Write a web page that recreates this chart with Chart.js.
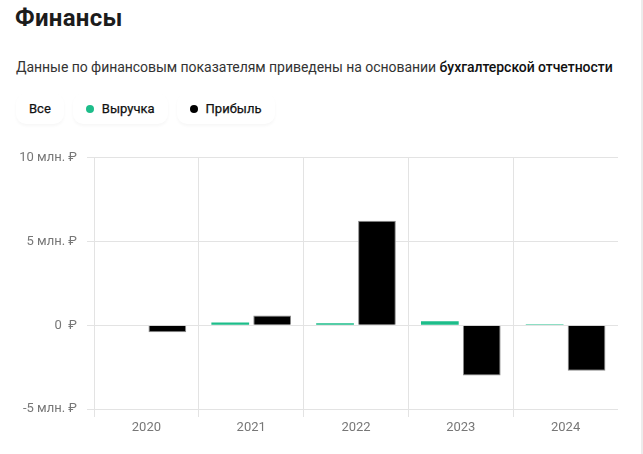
<!DOCTYPE html>
<html lang="ru">
<head>
<meta charset="utf-8">
<script src="https://cdn.jsdelivr.net/npm/chart.js@4"></script>
<style>
  html,body{margin:0;padding:0;background:#fff;}
  body{width:643px;height:454px;position:relative;overflow:hidden;font-family:Roboto,"Noto Sans",sans-serif;color:#222;}
  h1{position:absolute;left:15px;top:4px;margin:0;font-size:24px;font-weight:700;letter-spacing:0.3px;color:#1c1c1c;}
  .sub{position:absolute;left:16px;top:59px;margin:0;font-size:14px;color:#333;white-space:nowrap;letter-spacing:-0.05px;}
  .sub b{font-weight:500;color:#111;}
  .pills{position:absolute;left:16px;top:93px;display:flex;gap:9px;}
  .pill{height:31px;box-sizing:border-box;padding:0 13px;border-radius:10px;background:#fff;box-shadow:0 2px 3px rgba(0,0,0,0.035);display:flex;align-items:center;font-size:13px;font-weight:400;color:#111;-webkit-text-stroke:0.25px #111;}
  .dot{width:8px;height:8px;border-radius:50%;margin-right:8px;}
  .wrap{position:absolute;left:0;top:140px;width:643px;height:314px;}
  .edge{position:absolute;right:0;top:0;width:2px;height:454px;background:#ececec;}
</style>
</head>
<body>
<h1>Финансы</h1>
<p class="sub">Данные по финансовым показателям приведены на основании <b>бухгалтерской отчетности</b></p>
<div class="pills">
  <div class="pill">Все</div>
  <div class="pill"><span class="dot" style="background:#1dbd8a"></span>Выручка</div>
  <div class="pill"><span class="dot" style="background:#000"></span>Прибыль</div>
</div>
<div class="wrap"><canvas id="chart"></canvas></div>
<div class="edge"></div>
<script>
// данные, млн. ₽
const years = ['2020', '2021', '2022', '2023', '2024'];
const revenue = [null, 0.16, 0.12, 0.24, 0.06];
const profit = [-0.42, 0.59, 6.24, -3.0, -2.72];
const yTickValues = [-5, 0, 5, 10];
const yTickLabels = ['-5 млн. ₽', '0  ₽', '5 млн. ₽', '10 млн. ₽'];

const green = '#1dbd8a';
const gridColor = '#e3e3e3';

new Chart(document.getElementById('chart'), {
  type: 'bar',
  data: {
    labels: years,
    datasets: [
      {label: 'Выручка', data: revenue, backgroundColor: green, borderColor: green, borderWidth: 0},
      {label: 'Прибыль', data: profit, backgroundColor: '#000', borderColor: '#8a8a8a', borderWidth: 1}
    ]
  },
  options: {
    responsive: true,
    maintainAspectRatio: false,
    animation: false,
    layout: {padding: {top: 14, right: 25, left: 0, bottom: 0}},
    plugins: {legend: {display: false}, tooltip: {enabled: false}},
    scales: {
      x: {
        grid: {
          color: ctx => ctx.type === 'tick' ? gridColor : 'rgba(0,0,0,0)',
          tickLength: 8
        },
        border: {display: false},
        ticks: {color: '#777', font: {family: 'Roboto', size: 13}, padding: 3},
        afterFit: s => { s.height = 45; }
      },
      y: {
        min: -5,
        max: 10,
        grid: {color: gridColor, tickLength: 7},
        border: {display: false},
        ticks: {
          stepSize: 5,
          color: '#777',
          font: {family: 'Roboto', size: 13},
          padding: 10,
          callback: v => {
            const i = yTickValues.indexOf(v);
            return i >= 0 ? yTickLabels[i] : '';
          }
        },
        afterFit: s => { s.width = 94; }
      }
    }
  }
});
</script>
</body>
</html>
